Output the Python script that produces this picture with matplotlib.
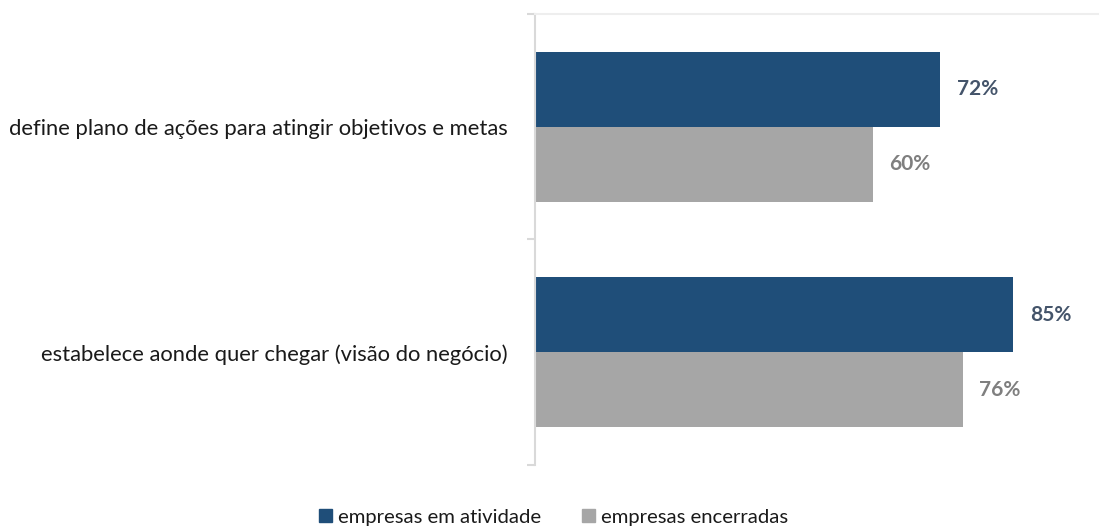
import matplotlib.pyplot as plt
from matplotlib.patches import Patch

plt.rcParams['font.family'] = ['Lato', 'DejaVu Sans']

categories = ['estabelece aonde quer chegar (visão do negócio)',
              'define plano de ações para atingir objetivos e metas']
series_names = ['empresas em atividade', 'empresas encerradas']
ativas = [85, 72]
encerradas = [76, 60]

blue = '#1F4E79'
gray = '#A6A6A6'

fig = plt.figure(figsize=(11, 5.26), dpi=100)
ax = fig.add_axes([0.4864, 0.116, 0.5116, 0.8574])

pos = list(range(len(categories)))
h = 1 / 3
bars_a = ax.barh([p + h / 2 for p in pos], ativas, height=h, color=blue)
bars_e = ax.barh([p - h / 2 for p in pos], encerradas, height=h, color=gray)

for bar, v in zip(bars_a, ativas):
    ax.annotate(f'{v}%', (bar.get_width(), bar.get_y() + bar.get_height() / 2),
                xytext=(12, 0), textcoords='offset points', va='center', ha='left',
                fontsize=15, fontweight='bold', color='#44546A')
for bar, v in zip(bars_e, encerradas):
    ax.annotate(f'{v}%', (bar.get_width(), bar.get_y() + bar.get_height() / 2),
                xytext=(12, 0), textcoords='offset points', va='center', ha='left',
                fontsize=15, fontweight='bold', color='#7F7F7F')

ax.set_xlim(0, 100)
ax.set_ylim(-0.5, len(categories) - 0.5)
ax.set_xticks([])
ax.set_yticks(pos)
ax.set_yticklabels(categories, fontsize=15.8, color='#1A1A1A')
ax.tick_params(axis='y', which='major', length=0, pad=20)
ax.set_yticks([-0.5, 0.5, 1.5], minor=True)
ax.tick_params(axis='y', which='minor', length=6, width=1.5, color='#D9D9D9')

for s in ['right', 'bottom']:
    ax.spines[s].set_visible(False)
ax.spines['left'].set_color('#D9D9D9')
ax.spines['left'].set_linewidth(1.5)
ax.spines['top'].set_color('#EEEEEE')
ax.spines['top'].set_linewidth(1.5)

handles = [Patch(color=blue), Patch(color=gray)]
fig.legend(handles, series_names, loc='center', bbox_to_anchor=(0.503, 0.017),
           ncol=2, frameon=False, fontsize=14.6, handlelength=0.65, handleheight=0.65,
           handletextpad=0.3, columnspacing=2.0, labelcolor='#1A1A1A')

fig.savefig('out.png', dpi=100)
